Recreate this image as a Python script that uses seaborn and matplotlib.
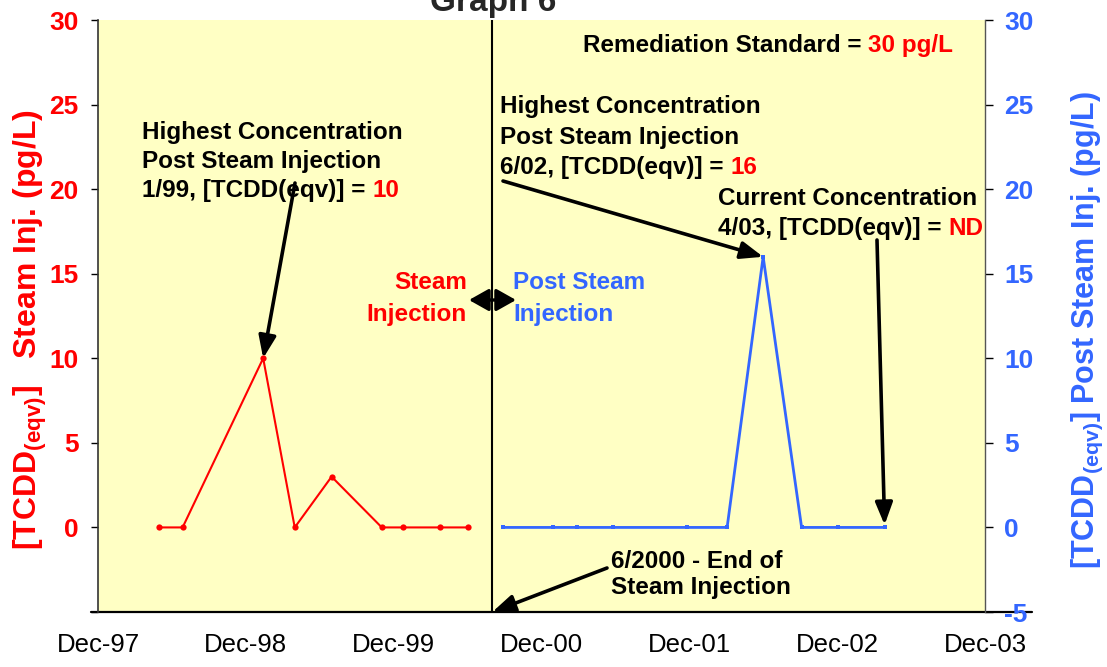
import matplotlib
matplotlib.use("Agg")
import matplotlib.pyplot as plt
import pandas as pd
import seaborn as sns

# Steam-injection phase sampling results, [TCDD(eqv)] in pg/L
steam_dates = ["1998-04-30", "1998-06-28", "1999-01-13", "1999-04-01", "1999-07-01",
               "1999-11-02", "1999-12-25", "2000-03-25", "2000-06-01"]
steam_values = [0, 0, 10, 0, 3, 0, 0, 0, 0]

# Post steam-injection sampling results, [TCDD(eqv)] in pg/L
post_dates = ["2000-08-28", "2000-12-28", "2001-02-25", "2001-05-25", "2001-11-25",
              "2002-03-04", "2002-06-01", "2002-09-04", "2002-12-04", "2003-03-28"]
post_values = [0, 0, 0, 0, 0, 0, 16, 0, 0, 0]

tick_dates = ["1997-12-01", "1998-12-01", "1999-12-01", "2000-12-01",
              "2001-12-01", "2002-12-01", "2003-12-01"]
tick_labels = ["Dec-97", "Dec-98", "Dec-99", "Dec-00", "Dec-01", "Dec-02", "Dec-03"]
y_ticks = [-5, 0, 5, 10, 15, 20, 25, 30]
end_of_injection = "2000-08-01"

RED = "#FF0000"
BLUE = "#3366FF"
PANEL = "#FFFFC4"

sns.set_style("white")
plt.rcParams["font.family"] = ["Liberation Sans", "DejaVu Sans"]
plt.rcParams["mathtext.fontset"] = "custom"
plt.rcParams["mathtext.rm"] = "Liberation Sans:bold"
plt.rcParams["mathtext.bf"] = "Liberation Sans:bold"
plt.rcParams["mathtext.it"] = "Liberation Sans:bold"

W, H = 1107, 667
fig = plt.figure(figsize=(W / 100, H / 100), dpi=100)
fig.patch.set_facecolor("white")
ax = fig.add_axes([98 / W, 1 - 612 / H, 887 / W, 592 / H])
ax.set_facecolor(PANEL)
ax2 = ax.twinx()

steam = pd.DataFrame({"date": pd.to_datetime(steam_dates), "value": steam_values})
post = pd.DataFrame({"date": pd.to_datetime(post_dates), "value": post_values})

sns.lineplot(data=steam, x="date", y="value", ax=ax, color=RED, lw=1.5,
             marker="o", markersize=4.5, markeredgewidth=0)
sns.lineplot(data=post, x="date", y="value", ax=ax2, color=BLUE, lw=2.0,
             marker="s", markersize=3.5, markeredgewidth=0)

ax.axvline(pd.Timestamp(end_of_injection), color="black", lw=1.5, zorder=1)

x0, x1 = pd.Timestamp(tick_dates[0]), pd.Timestamp(tick_dates[-1])
for a in (ax, ax2):
    a.set_xlim(x0, x1)
    a.set_ylim(-5, 30)
    a.set_yticks(y_ticks)
    a.set_xlabel("")
    a.set_ylabel("")

ax.set_xticks(pd.to_datetime(tick_dates))
ax.set_xticklabels(tick_labels)
ax.tick_params(axis="x", length=0, pad=15, labelsize=18.5, labelcolor="black")

ax.set_yticklabels(["" if v == -5 else str(v) for v in y_ticks])
ax.tick_params(axis="y", left=True, direction="out", length=5, width=1,
               color="black", pad=9, labelsize=19)
for lab in ax.get_yticklabels():
    lab.set_color(RED)
    lab.set_fontweight("bold")

ax2.set_yticklabels([str(v) for v in y_ticks])
ax2.tick_params(axis="y", right=True, direction="out", length=6, width=1,
                color="black", pad=8, labelsize=19)
for lab in ax2.get_yticklabels():
    lab.set_color(BLUE)
    lab.set_fontweight("bold")

for a in (ax, ax2):
    a.spines["top"].set_visible(False)
ax.spines["left"].set_color("#333333")
ax.spines["left"].set_linewidth(1.2)
ax.spines["right"].set_visible(False)
ax2.spines["left"].set_visible(False)
ax2.spines["right"].set_color("#555555")
ax2.spines["right"].set_linewidth(1.0)
ax.spines["bottom"].set_visible(False)
ax2.spines["bottom"].set_visible(False)
# Category axis line, running a little past both value axes
ax.axhline(-5, xmin=-0.008, xmax=1.053, color="black", lw=1.6, clip_on=False)

# Axis titles
fig.text(30 / W, 1 - 330 / H, r"[TCDD$_{\mathrm{(eqv)}}$]   Steam Inj. (pg/L)",
         rotation=90, ha="center", va="center", color=RED, fontsize=23,
         fontweight="bold")
fig.text(1087 / W, 1 - 330 / H, r"[TCDD$_{\mathrm{(eqv)}}$] Post Steam Inj. (pg/L)",
         rotation=90, ha="center", va="center", color=BLUE, fontsize=22,
         fontweight="bold")

# Chart title, mostly above the top edge of the canvas
fig.text(493 / W, 1 - 11 / H, "Graph 6", ha="center", va="baseline",
         fontsize=24, fontweight="bold")

FS = 17.5
renderer = fig.canvas.get_renderer()


def line(x, y, s, color="black", ha="left"):
    return fig.text(x / W, 1 - y / H, s, ha=ha, va="baseline", color=color,
                    fontsize=FS, fontweight="bold")


def line_with_value(x, y, s, value):
    t = line(x, y, s)
    bb = t.get_window_extent(renderer=renderer)
    gap = 0.28 * FS * 100 / 72
    fig.text((bb.x1 + gap) / W, 1 - y / H, value, ha="left", va="baseline",
             color=RED, fontsize=FS, fontweight="bold")


line_with_value(583, 52, "Remediation Standard =", "30 pg/L")

line(142, 139, "Highest Concentration")
line(142, 168, "Post Steam Injection")
line_with_value(142, 197, "1/99, [TCDD(eqv)] =", "10")

line(500, 113, "Highest Concentration")
line(500, 144, "Post Steam Injection")
line_with_value(500, 174, "6/02, [TCDD(eqv)] =", "16")

line(718, 205, "Current Concentration")
line_with_value(718, 235, "4/03, [TCDD(eqv)] =", "ND")

line(467, 289, "Steam", RED, "right")
line(467, 321, "Injection", RED, "right")
line(513, 289, "Post Steam", BLUE)
line(513, 321, "Injection", BLUE)

line(611, 568, "6/2000 - End of")
line(611, 594, "Steam Injection")

arrow = dict(arrowstyle="-|>,head_length=0.9,head_width=0.35", lw=2.6,
             color="black", mutation_scale=15, shrinkA=0, shrinkB=0)


def pointer(tip, tail_px, props=arrow):
    ax2.annotate("", xy=tip, xycoords="data",
                 xytext=(tail_px[0], H - tail_px[1]), textcoords="figure pixels",
                 arrowprops=props)


pointer((pd.Timestamp(steam_dates[2]), steam_values[2]), (295, 183))
pointer((pd.Timestamp(post_dates[6]), post_values[6]), (503, 181))
pointer((pd.Timestamp(post_dates[-1]), post_values[-1] + 0.15), (877, 240))
pointer((pd.Timestamp(end_of_injection), -5), (607, 568))

double = dict(arrowstyle="<|-|>,head_length=0.8,head_width=0.45", lw=2.4,
              color="black", mutation_scale=15, shrinkA=0, shrinkB=0)
ax2.annotate("", xy=(469, H - 300), xycoords="figure pixels",
             xytext=(516, H - 300), textcoords="figure pixels", arrowprops=double)

fig.savefig("out.png", dpi=100)
